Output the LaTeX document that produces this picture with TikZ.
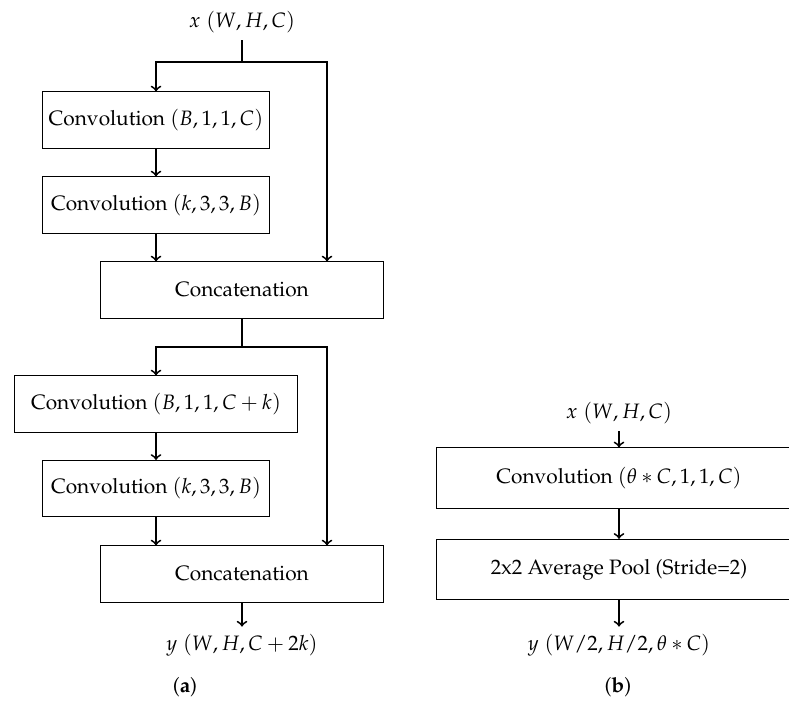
\documentclass[tikz,border=0pt]{standalone}
\usepackage[T1]{fontenc}
\usepackage{mathpazo}
\usetikzlibrary{positioning}

\begin{document}
\begin{tikzpicture}[x=0.48pt, y=-0.48pt, every node/.style={align=center},
    layer/.style={draw, line width=0.4pt, inner sep=0pt, minimum height=27pt},
    flow/.style={->, line width=0.9pt}]
  \useasboundingbox (0,0) rectangle (789,704);

  % (a) dense block
  \node (xin) at (242,22) {$x\;(W,H,C)$};
  \node[layer, minimum width=109pt] (conv1) at (156,120) {Convolution $(B,1,1,C)$};
  \node[layer, minimum width=109pt] (conv2) at (156,205) {Convolution $(k,3,3,B)$};
  \node[layer, minimum width=136pt] (cat1)  at (242,290) {Concatenation};
  \node[layer, minimum width=136pt] (conv3) at (156,404) {Convolution $(B,1,1,C+k)$};
  \node[layer, minimum width=109pt] (conv4) at (156,488.5) {Convolution $(k,3,3,B)$};
  \node[layer, minimum width=136pt] (cat2)  at (242,574) {Concatenation};
  \node (yout) at (242,645) {$y\;(W,H,C+2k)$};
  \node (capa) at (185,687) {(\textbf{a})};

  % split points
  \coordinate (split1) at (242,62);
  \coordinate (skip1)  at (327,62);
  \coordinate (split2) at (242,347);
  \coordinate (skip2)  at (327,347);

  % Arrows
  \draw[line width=0.9pt] (xin) -- (split1);
  \draw[flow] (split1) -| (conv1.north);
  \draw[flow] (split1) -- (skip1) -- (skip1 |- cat1.north);
  \draw[flow] (conv1) -- (conv2);
  \draw[flow] (conv2.south) -- (conv2.south |- cat1.north);
  \draw[line width=0.9pt] (cat1) -- (split2);
  \draw[flow] (split2) -| (conv3.north);
  \draw[flow] (split2) -- (skip2) -- (skip2 |- cat2.north);
  \draw[flow] (conv3) -- (conv4);
  \draw[flow] (conv4.south) -- (conv4.south |- cat2.north);
  \draw[flow] (cat2) -- (yout);

  % (b) transition layer
  \node (xin2) at (619,413) {$x\;(W,H,C)$};
  \node[layer, minimum width=175pt, minimum height=29pt] (conv5) at (619,478) {Convolution $(\theta*C,1,1,C)$};
  \node[layer, minimum width=175pt, minimum height=29pt] (pool)  at (619,569.5) {2x2 Average Pool (Stride=2)};
  \node (yout2) at (619,645) {$y\;(W/2,H/2,\theta*C)$};
  \node (capb) at (618,687) {(\textbf{b})};

  \draw[flow] (xin2) -- (conv5);
  \draw[flow] (conv5) -- (pool);
  \draw[flow] (pool) -- (yout2);
\end{tikzpicture}
\end{document}
